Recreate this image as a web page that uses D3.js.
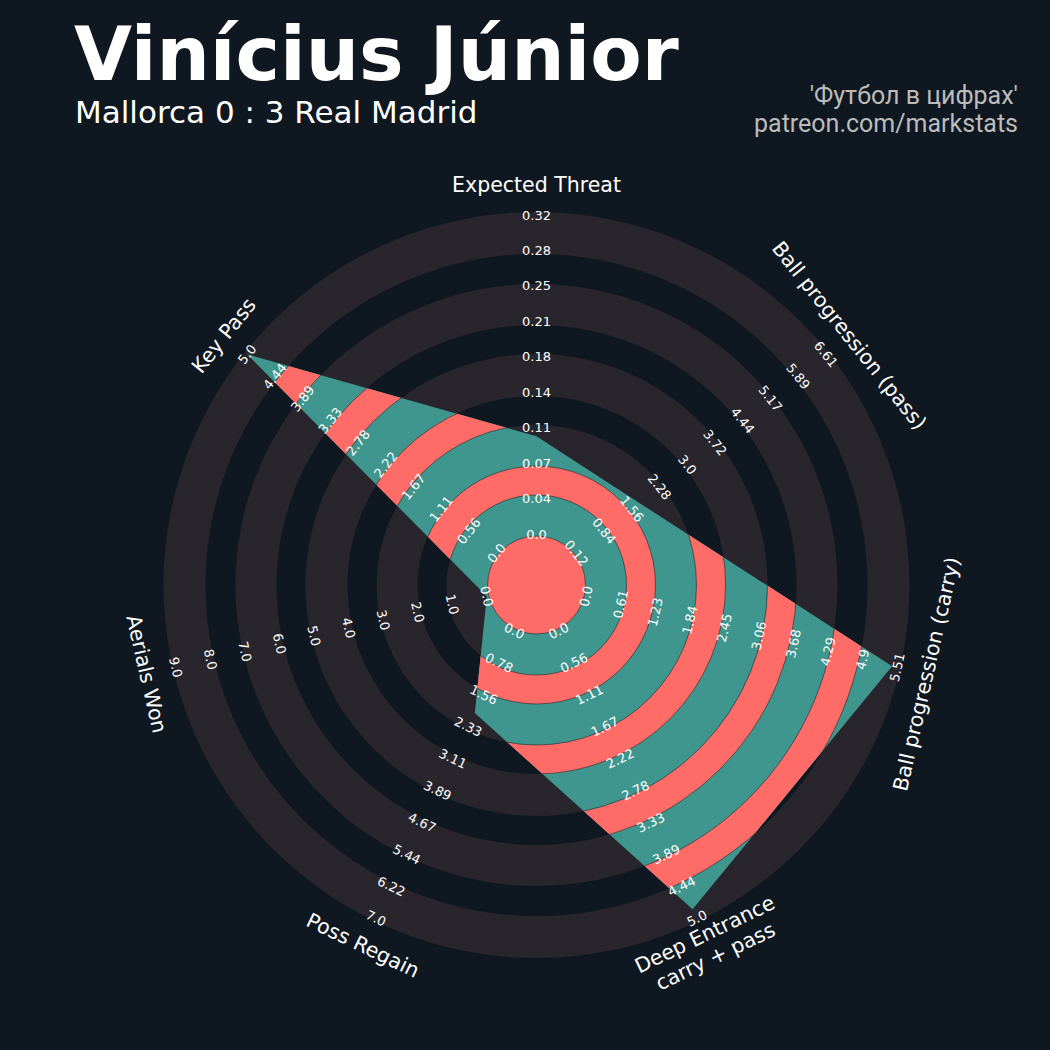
<!DOCTYPE html>
<html><head><meta charset="utf-8">
<script src="https://cdn.jsdelivr.net/npm/d3@7"></script>
<style>html,body{margin:0;padding:0;background:#0f1820;}svg{display:block;}</style>
</head><body><svg id="chart" width="1050" height="1050"></svg>
<script>
// ---------------- data ----------------
const params = ["Expected Threat", "Ball progression (pass)", "Ball progression (carry)",
  "Deep Entrance\ncarry + pass", "Poss Regain", "Aerials Won", "Key Pass"];
const lowerBounds = [0, 0.12, 0, 0, 0, 0, 0];
const upperBounds = [0.32, 6.61, 5.51, 5.0, 7.0, 9.0, 5.0];
const playerValues = [0.098, 1.76, 5.42, 4.84, 2.0, 0.0, 5.0];
const tickLabels = [
  ["0.0","0.04","0.07","0.11","0.14","0.18","0.21","0.25","0.28","0.32"],
  ["0.12","0.84","1.56","2.28","3.0","3.72","4.44","5.17","5.89","6.61"],
  ["0.0","0.61","1.23","1.84","2.45","3.06","3.68","4.29","4.9","5.51"],
  ["0.0","0.56","1.11","1.67","2.22","2.78","3.33","3.89","4.44","5.0"],
  ["0.0","0.78","1.56","2.33","3.11","3.89","4.67","5.44","6.22","7.0"],
  ["0.0","1.0","2.0","3.0","4.0","5.0","6.0","7.0","8.0","9.0"],
  ["0.0","0.56","1.11","1.67","2.22","2.78","3.33","3.89","4.44","5.0"]
];
const titleText = "Vinícius Júnior";
const subtitleText = "Mallorca 0 : 3 Real Madrid";
const creditLines = ["'Футбол в цифрах'", "patreon.com/markstats"];

// ---------------- layout ----------------
const cx = 536.5, cy = 585;
const rMin = 51, rMax = 370;          // value scale radii
const ringEdges = [49, 90, 119, 160, 189, 231, 260, 301, 331, 373];
const colors = {bg: "#0f1820", ring: "#28252c", teal: "#3e968f", red: "#ff6b67", text: "#ffffff", credit: "#bcbcbc"};

const svg = d3.select("#chart");
svg.append("rect").attr("width", 1050).attr("height", 1050).attr("fill", colors.bg);

const n = params.length;
const angleDeg = i => { let a = 90 - i * 360 / n; if (a <= -180) a += 360; return a; };
const pt = (i, r) => { const a = angleDeg(i) * Math.PI / 180; return [cx + r * Math.cos(a), cy - r * Math.sin(a)]; };
const rot = i => { const a = angleDeg(i); return Math.sin(a * Math.PI / 180) >= -1e-9 ? 90 - a : -(90 + a); };

const g = svg.append("g");
const arc = d3.arc().startAngle(0).endAngle(2 * Math.PI);

// background rings
const bgRings = [];
for (let k = 0; k + 1 < ringEdges.length; k += 2) bgRings.push([ringEdges[k], ringEdges[k + 1]]);
g.selectAll("path.bgring").data(bgRings).join("path")
  .attr("class", "bgring")
  .attr("transform", `translate(${cx},${cy})`)
  .attr("d", d => arc({innerRadius: d[0], outerRadius: d[1]}))
  .attr("fill", colors.ring);

// radar polygon
const scales = params.map((p, i) => d3.scaleLinear().domain([lowerBounds[i], upperBounds[i]]).range([rMin, rMax]));
const verts = playerValues.map((v, i) => pt(i, scales[i](v)));
const line = d3.line().curve(d3.curveLinearClosed);

svg.append("defs").append("clipPath").attr("id", "radarClip")
  .append("path").attr("d", line(verts));

g.append("path").attr("d", line(verts)).attr("fill", colors.teal);

const redRings = [[0, ringEdges[0]]];
for (let k = 1; k + 1 < ringEdges.length; k += 2) redRings.push([ringEdges[k], ringEdges[k + 1]]);
g.append("g").attr("clip-path", "url(#radarClip)")
  .selectAll("path").data(redRings).join("path")
  .attr("transform", `translate(${cx},${cy})`)
  .attr("d", d => arc({innerRadius: d[0], outerRadius: d[1]}))
  .attr("fill", colors.red)
  .attr("stroke", "#1a2a2c").attr("stroke-width", 0.6);

// tick labels
const idxScale = d3.scaleLinear().domain([0, 9]).range([rMin, rMax]);
tickLabels.forEach((labels, i) => {
  labels.forEach((t, k) => {
    const [x, y] = pt(i, idxScale(k));
    g.append("text").attr("transform", `translate(${x},${y}) rotate(${rot(i)})`)
      .attr("text-anchor", "middle").attr("dominant-baseline", "central")
      .attr("font-family", "DejaVu Sans").attr("font-size", 13)
      .attr("fill", colors.text).text(t);
  });
});

// param labels
params.forEach((p, i) => {
  const [x, y] = pt(i, 400);
  const lines = p.split("\n");
  const t = g.append("text").attr("transform", `translate(${x},${y}) rotate(${rot(i)})`)
    .attr("text-anchor", "middle")
    .attr("font-family", "DejaVu Sans").attr("font-size", 20.5).attr("fill", colors.text);
  const lh = 24.5;
  lines.forEach((l, j) => {
    t.append("tspan").attr("x", 0).attr("y", (j - (lines.length - 1) / 2) * lh)
      .attr("dominant-baseline", "central").text(l);
  });
});

// titles
svg.append("text").attr("x", 74).attr("y", 80)
  .attr("font-family", "DejaVu Sans").attr("font-weight", "bold").attr("font-size", 75)
  .attr("fill", colors.text).text(titleText);
svg.append("text").attr("x", 75).attr("y", 123)
  .attr("font-family", "DejaVu Sans").attr("font-size", 31)
  .attr("fill", colors.text).text(subtitleText);
creditLines.forEach((c, j) => {
  svg.append("text").attr("x", 1018).attr("y", 104 + j * 28)
    .attr("text-anchor", "end")
    .attr("font-family", "Roboto").attr("font-size", 25)
    .attr("fill", colors.credit).text(c);
});
</script>
</body></html>
